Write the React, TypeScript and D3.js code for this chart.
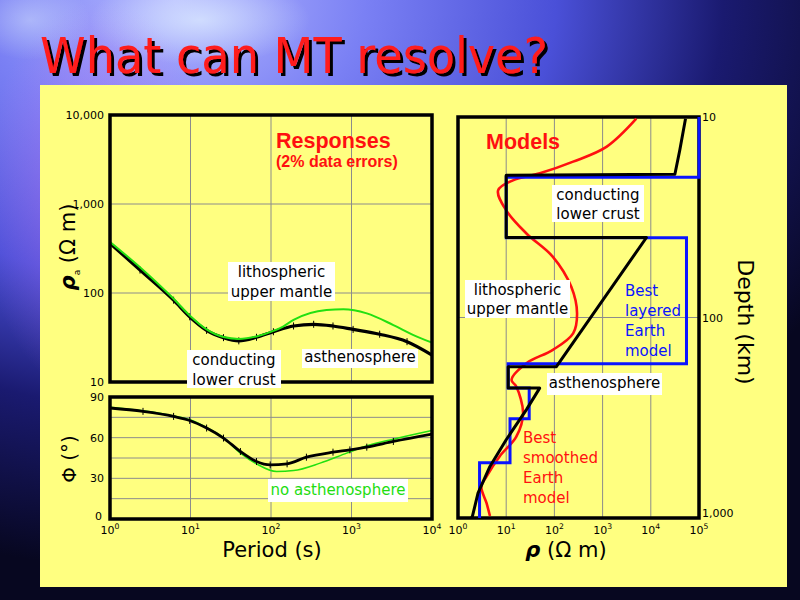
import React from "react";
import * as d3 from "d3";

// ---------- Data ----------
const periodTickExp = [0, 1, 2, 3, 4];
const rhoTicks = [10, 100, 1000, 10000];
const rhoTickLabels = ["10", "100", "1,000", "10,000"];
const phaseTicks = [0, 30, 60, 90];
const phaseGrid = [15, 30, 45, 60, 75];

// apparent resistivity, observed (black) - log10 period, ohm m
const rhoObsExp = [0, 0.373, 0.79, 0.99, 1.2, 1.41, 1.6, 1.82, 2.03, 2.28, 2.53, 2.77, 3.02, 3.35, 3.69, 4.0];
const rhoObs = [362, 181, 83, 54, 38, 31.5, 29, 31.8, 36.7, 42.6, 44.5, 42.6, 39, 34.4, 28.4, 20.1];
// no asthenosphere (green)
const rhoNoAsthExp = [0, 0.4, 0.79, 0.99, 1.2, 1.41, 1.6, 1.82, 2.03, 2.15, 2.28, 2.69, 2.9, 3.19, 3.52, 3.77, 4.0];
const rhoNoAsth = [375, 185, 86, 56, 39, 32, 30.5, 32.5, 37.5, 42, 49.8, 64.4, 65.6, 59, 43.6, 33.7, 27.7];

// phase
const phObsExp = [0, 0.41, 0.79, 0.99, 1.2, 1.41, 1.62, 1.82, 1.99, 2.2, 2.44, 2.77, 2.98, 3.19, 3.52, 4.0];
const phObs = [81.9, 79.4, 75.7, 72.7, 67.1, 59.7, 49.8, 42.4, 39.9, 40.7, 45.6, 49.3, 51, 53, 57.2, 62.6];
const phNoAsthExp = [0, 0.41, 0.79, 0.99, 1.2, 1.41, 1.62, 1.82, 2.07, 2.28, 2.61, 2.94, 3.19, 3.52, 4.0];
const phNoAsth = [82.5, 79.8, 76, 73.2, 67.5, 60, 48.6, 40.7, 35, 35.7, 41.2, 48.6, 54, 58.9, 65.3];

// models
const modelRhoTickExp = [0, 1, 2, 3, 4, 5];
const depthTicks = [10, 100, 1000];
const depthTickLabels = ["10", "100", "1,000"];

// best layered model (blue): layer top depths and resistivities
const layerTops = [10, 20, 40, 170, 225, 320, 530];
const layerBottomDepth = 1000;
const layerRho = [100000, 10, 55000, 11, 30, 12, 2.8];

// black model
const blackRho = [52500, 39800, 31600, 10, 10, 8130, 110, 11, 11, 49.5, 26.3, 10, 4.6, 2.6, 2.0, 1.9];
const blackDepth = [10.2, 14.7, 19.3, 19.5, 39.9, 39.9, 176, 176, 225, 225, 288, 407, 553, 752, 977, 1000];

// best smoothed model (red)
const redRho = [5000, 1200, 245, 50, 13.8, 6.8, 10, 26.3, 93, 224, 295, 245, 93, 26.3, 12.9, 16.2, 22.4, 16.2, 7.3, 3.9, 3.05, 3.9, 4.6];
const redDepth = [10.2, 14.1, 16.7, 19.1, 20.7, 23.2, 29.2, 38.1, 49.8, 70.3, 95.3, 120, 145, 169, 205, 221, 300, 393, 493, 621, 697, 841, 977];

// ---------- Layout ----------
const TL = { x0: 110, x1: 432, y0: 115, y1: 382 };
const PH = { x0: 110, x1: 432, y0: 397, y1: 519 };
const MD = { x0: 458, x1: 699, y0: 117, y1: 518 };

const FONT = "'DejaVu Sans', Verdana, sans-serif";
const BOLD = "'Liberation Sans', Arial, sans-serif";
const YELLOW = "#ffff80";

function Sup({ x, y, base, exp, size = 11, anchor = "middle" }: any) {
  return (
    <text x={x} y={y} fontSize={size} fontFamily={FONT} textAnchor={anchor} fill="#000">
      {base}
      <tspan dy={-5} fontSize={size * 0.7}>{exp}</tspan>
    </text>
  );
}

function LabelBox({ x, y, w, h, lines, cx, baselines, color = "#000", size = 15 }: any) {
  return (
    <g>
      <rect x={x} y={y} width={w} height={h} fill="#fff" />
      {lines.map((l: string, i: number) => (
        <text key={i} x={cx} y={baselines[i]} fontSize={size} fontFamily={FONT} textAnchor="middle" fill={color}>
          {l}
        </text>
      ))}
    </g>
  );
}

export default function App() {
  const xP = d3.scaleLog().domain([1, 1e4]).range([TL.x0, TL.x1]);
  const yR = d3.scaleLog().domain([10, 1e4]).range([TL.y1, TL.y0]);
  const yPh = d3.scaleLinear().domain([0, 90]).range([PH.y1, PH.y0]);
  const xM = d3.scaleLog().domain([1, 1e5]).range([MD.x0, MD.x1]);
  const yD = d3.scaleLog().domain([10, 1000]).range([MD.y0, MD.y1]);

  const rhoLine = d3
    .line<[number, number]>()
    .x((d) => xP(10 ** d[0]))
    .y((d) => yR(d[1]))
    .curve(d3.curveMonotoneX);
  const phLine = d3
    .line<[number, number]>()
    .x((d) => xP(10 ** d[0]))
    .y((d) => yPh(d[1]))
    .curve(d3.curveMonotoneX);
  const modelLine = d3
    .line<[number, number]>()
    .x((d) => xM(d[0]))
    .y((d) => yD(d[1]));
  const modelCurve = d3
    .line<[number, number]>()
    .x((d) => xM(d[0]))
    .y((d) => yD(d[1]))
    .curve(d3.curveCatmullRom.alpha(0.5));

  const zip = (a: number[], b: number[]) => a.map((v, i) => [v, b[i]] as [number, number]);

  // blue layered step path
  const bluePts: [number, number][] = [];
  layerTops.forEach((top, i) => {
    const bottom = i < layerTops.length - 1 ? layerTops[i + 1] : layerBottomDepth;
    bluePts.push([layerRho[i], top]);
    bluePts.push([layerRho[i], bottom]);
  });

  const gridColor = "#8c8c8c";

  return (
    <svg width={800} height={600} style={{ position: "absolute", left: 0, top: 0 }}>
      <defs>
        <radialGradient id="bg" cx="0.22" cy="0.0" r="0.95">
          <stop offset="0" stopColor="#b4b8ff" />
          <stop offset="0.25" stopColor="#7a80f4" />
          <stop offset="0.5" stopColor="#4a50d8" />
          <stop offset="0.72" stopColor="#1a1a70" />
          <stop offset="1" stopColor="#070720" />
        </radialGradient>
        <radialGradient id="glow" cx="0.5" cy="0.5" r="0.5">
          <stop offset="0" stopColor="#e0f0ff" stopOpacity="0.7" />
          <stop offset="1" stopColor="#e0f0ff" stopOpacity="0" />
        </radialGradient>
        <radialGradient id="violet" cx="0.5" cy="0.5" r="0.5">
          <stop offset="0" stopColor="#c070f0" stopOpacity="0.55" />
          <stop offset="1" stopColor="#c070f0" stopOpacity="0" />
        </radialGradient>
        <filter id="shadow" x="-5%" y="-5%" width="115%" height="125%">
          <feDropShadow dx={3} dy={3} stdDeviation={0.3} floodColor="#000" floodOpacity={1} />
        </filter>
        <clipPath id="clipTL">
          <rect x={TL.x0} y={TL.y0} width={TL.x1 - TL.x0} height={TL.y1 - TL.y0} />
        </clipPath>
        <clipPath id="clipPH">
          <rect x={PH.x0} y={PH.y0} width={PH.x1 - PH.x0} height={PH.y1 - PH.y0} />
        </clipPath>
        <clipPath id="clipMD">
          <rect x={MD.x0} y={MD.y0 - 1} width={MD.x1 - MD.x0 + 2} height={MD.y1 - MD.y0 + 1} />
        </clipPath>
      </defs>

      {/* background */}
      <rect x={0} y={0} width={800} height={600} fill="url(#bg)" />
      <ellipse cx={100} cy={200} rx={120} ry={200} fill="url(#violet)" />
      <ellipse cx={200} cy={20} rx={110} ry={45} fill="url(#glow)" />
      <ellipse cx={30} cy={20} rx={60} ry={40} fill="url(#glow)" opacity={0.6} />

      {/* title */}
      <text x={40} y={73} fontSize={50} fontFamily="'Comic Sans MS', 'DejaVu Sans', sans-serif" fill="#ff1c1c" textLength={508} lengthAdjust="spacingAndGlyphs" filter="url(#shadow)">
        What can MT resolve?
      </text>

      {/* yellow panel */}
      <rect x={40} y={85} width={747} height={502} fill={YELLOW} />

      {/* ===== Top-left: apparent resistivity ===== */}
      {periodTickExp.slice(1, -1).map((e) => (
        <line key={"gx" + e} x1={xP(10 ** e)} x2={xP(10 ** e)} y1={TL.y0} y2={TL.y1} stroke={gridColor} strokeWidth={1} />
      ))}
      {rhoTicks.slice(1, -1).map((v) => (
        <line key={"gy" + v} x1={TL.x0} x2={TL.x1} y1={yR(v)} y2={yR(v)} stroke={gridColor} strokeWidth={1} />
      ))}
      {rhoTicks.map((v, i) => (
        <text key={"ry" + v} x={104} y={yR(v) + 4} fontSize={11} fontFamily={FONT} textAnchor="end">
          {rhoTickLabels[i]}
        </text>
      ))}
      <g clipPath="url(#clipTL)">
        <path d={rhoLine(zip(rhoObsExp, rhoObs)) || ""} fill="none" stroke="#000" strokeWidth={3.2} />
        {rhoObsExp.map((e, i) => (
          <line key={"eb" + i} x1={xP(10 ** e)} x2={xP(10 ** e)} y1={yR(rhoObs[i]) - 3.5} y2={yR(rhoObs[i]) + 3.5} stroke="#000" strokeWidth={1} />
        ))}
        <path d={rhoLine(zip(rhoNoAsthExp, rhoNoAsth)) || ""} fill="none" stroke="#22e010" strokeWidth={2} />
      </g>
      <rect x={TL.x0} y={TL.y0} width={TL.x1 - TL.x0} height={TL.y1 - TL.y0} fill="none" stroke="#000" strokeWidth={3.5} />

      <text x={276} y={148} fontSize={21.5} fontWeight="bold" fontFamily={BOLD} fill="#ff1010">
        Responses
      </text>
      <text x={276} y={167} fontSize={16} fontWeight="bold" fontFamily={BOLD} fill="#ff1010">
        (2% data errors)
      </text>
      <LabelBox x={228} y={262} w={107} h={39} cx={281.5} baselines={[277, 297]} lines={["lithospheric", "upper mantle"]} />
      <LabelBox x={187} y={350} w={94} h={38} cx={234} baselines={[365, 385]} lines={["conducting", "lower crust"]} />
      <LabelBox x={302} y={349} w={116} h={19} cx={360} baselines={[362]} lines={["asthenosphere"]} />

      {/* y label */}
      <text transform="translate(75,247) rotate(-90)" textAnchor="middle" fontSize={21} fontFamily={FONT}>
        <tspan fontWeight="bold" fontStyle="italic">ρ</tspan>
        <tspan fontSize={9} dy={5}>a</tspan>
        <tspan dy={-5}> (Ω m)</tspan>
      </text>

      {/* ===== Phase ===== */}
      {periodTickExp.slice(1, -1).map((e) => (
        <line key={"pgx" + e} x1={xP(10 ** e)} x2={xP(10 ** e)} y1={PH.y0} y2={PH.y1} stroke={gridColor} strokeWidth={1} />
      ))}
      {phaseGrid.map((v) => (
        <line key={"pgy" + v} x1={PH.x0} x2={PH.x1} y1={yPh(v)} y2={yPh(v)} stroke={gridColor} strokeWidth={1} />
      ))}
      {phaseTicks.map((v) => (
        <text key={"pt" + v} x={v === 0 ? 102 : 104} y={v === 0 ? yPh(v) + 1 : yPh(v) + 4} fontSize={11} fontFamily={FONT} textAnchor="end">
          {v}
        </text>
      ))}
      <g clipPath="url(#clipPH)">
        <path d={phLine(zip(phNoAsthExp, phNoAsth)) || ""} fill="none" stroke="#22e010" strokeWidth={1.5} />
        <path d={phLine(zip(phObsExp, phObs)) || ""} fill="none" stroke="#000" strokeWidth={2.8} />
        {phObsExp.map((e, i) => (
          <line key={"peb" + i} x1={xP(10 ** e)} x2={xP(10 ** e)} y1={yPh(phObs[i]) - 3.5} y2={yPh(phObs[i]) + 3.5} stroke="#000" strokeWidth={1} />
        ))}
      </g>
      <rect x={PH.x0} y={PH.y0} width={PH.x1 - PH.x0} height={PH.y1 - PH.y0} fill="none" stroke="#000" strokeWidth={3.5} />
      <LabelBox x={268} y={479} w={140} h={23} cx={338} baselines={[495]} lines={["no asthenosphere"]} color="#22dd10" />

      <text transform="translate(76,459) rotate(-90)" textAnchor="middle" fontSize={20} fontFamily={FONT}>
        Φ (°)
      </text>

      {periodTickExp.map((e) => (
        <Sup key={"px" + e} x={xP(10 ** e)} y={534} base="10" exp={e} />
      ))}
      <text x={272} y={557} fontSize={21} fontFamily={FONT} textAnchor="middle">
        Period (s)
      </text>

      {/* ===== Models ===== */}
      {modelRhoTickExp.slice(1, -1).map((e) => (
        <line key={"mgx" + e} x1={xM(10 ** e)} x2={xM(10 ** e)} y1={MD.y0} y2={MD.y1} stroke={gridColor} strokeWidth={1} />
      ))}
      {depthTicks.slice(1, -1).map((v) => (
        <line key={"mgy" + v} x1={MD.x0} x2={MD.x1} y1={yD(v)} y2={yD(v)} stroke={gridColor} strokeWidth={1} />
      ))}
      <rect x={MD.x0} y={MD.y0} width={MD.x1 - MD.x0} height={MD.y1 - MD.y0} fill="none" stroke="#000" strokeWidth={3.5} />
      <g clipPath="url(#clipMD)">
        <path d={modelCurve(zip(redRho, redDepth)) || ""} fill="none" stroke="#ff1010" strokeWidth={2.6} />
        <path d={modelLine(bluePts) || ""} fill="none" stroke="#0a14ff" strokeWidth={3} />
        <path d={modelLine(zip(blackRho, blackDepth)) || ""} fill="none" stroke="#000" strokeWidth={3} strokeLinejoin="round" />
      </g>
      {depthTicks.map((v, i) => (
        <text key={"dt" + v} x={702} y={i === depthTicks.length - 1 ? yD(v) - 1 : yD(v) + 4} fontSize={11} fontFamily={FONT} textAnchor="start">
          {depthTickLabels[i]}
        </text>
      ))}
      {modelRhoTickExp.map((e) => (
        <Sup key={"mx" + e} x={xM(10 ** e)} y={534} base="10" exp={e} />
      ))}
      <text x={566} y={557} fontSize={21} fontFamily={FONT} textAnchor="middle">
        <tspan fontWeight="bold" fontStyle="italic">ρ</tspan>
        <tspan> (Ω m)</tspan>
      </text>
      <text transform="translate(738,322) rotate(90)" textAnchor="middle" fontSize={22} fontFamily={FONT}>
        Depth (km)
      </text>

      <text x={486} y={149} fontSize={21.5} fontWeight="bold" fontFamily={BOLD} fill="#ff1010">
        Models
      </text>
      <LabelBox x={552} y={185} w={92} h={37} cx={598} baselines={[200, 219]} lines={["conducting", "lower crust"]} />
      <LabelBox x={465} y={280} w={105} h={38} cx={517.5} baselines={[295, 314]} lines={["lithospheric", "upper mantle"]} />
      <LabelBox x={547} y={373} w={115} h={22} cx={604.5} baselines={[388]} lines={["asthenosphere"]} />
      {["Best", "layered", "Earth", "model"].map((t, i) => (
        <text key={"bl" + i} x={625} y={296 + i * 20} fontSize={15} fontFamily={FONT} fill="#0a14ff">
          {t}
        </text>
      ))}
      {["Best", "smoothed", "Earth", "model"].map((t, i) => (
        <text key={"bs" + i} x={523} y={443 + i * 20} fontSize={15} fontFamily={FONT} fill="#ff1010">
          {t}
        </text>
      ))}
    </svg>
  );
}
